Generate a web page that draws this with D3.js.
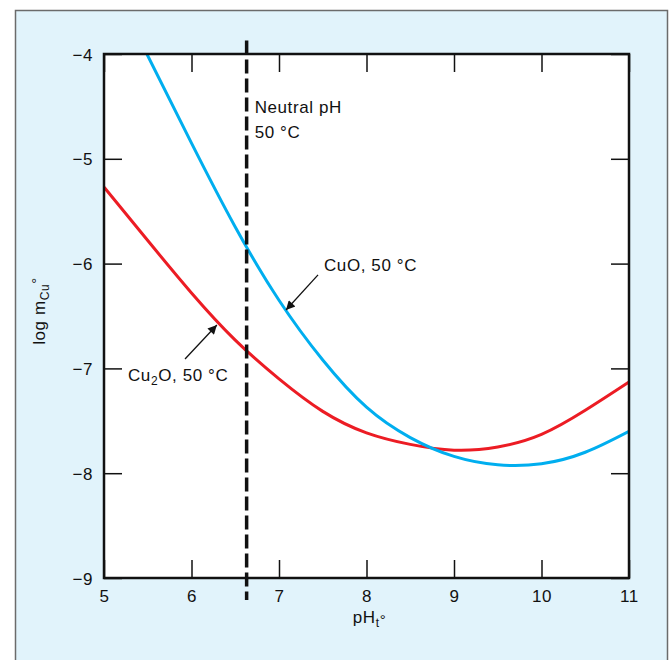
<!DOCTYPE html>
<html><head><meta charset="utf-8">
<script src="https://cdn.jsdelivr.net/npm/d3@7/dist/d3.min.js"></script>
<style>
html,body{margin:0;padding:0;background:#fff;}
svg text{font-family:"Liberation Sans",Arial,Helvetica,sans-serif;}
</style></head>
<body>
<svg id="chart" width="670" height="660"></svg>
<script>
// ---- data ----
const xTicks = [5, 6, 7, 8, 9, 10, 11];
const yTicks = [-4, -5, -6, -7, -8, -9];
const cuoPH   = [5.49, 6, 6.5, 7, 7.5, 8, 8.5, 9, 9.5, 10, 10.5, 11];
const cuoLog  = [-4.0, -4.85, -5.65, -6.35, -6.92, -7.37, -7.66, -7.84, -7.92, -7.91, -7.8, -7.6];
const cu2oPH  = [5, 5.5, 6, 6.5, 7, 7.5, 8, 8.5, 9, 9.5, 10, 10.5, 11];
const cu2oLog = [-5.27, -5.78, -6.28, -6.73, -7.1, -7.41, -7.615, -7.725, -7.78, -7.75, -7.63, -7.4, -7.13];
const neutralPH = 6.63;
const labelCuO = "CuO, 50 °C";
const labelNeutral = ["Neutral pH", "50 °C"];

// ---- layout ----
const svg = d3.select("#chart");
const L = 104, R = 629, T = 54, B = 578;
const x = d3.scaleLinear().domain([5, 11]).range([L, R]);
const y = d3.scaleLinear().domain([-9, -4]).range([B, T]);
const FONT = 17, LS = "0.6px";

// panel
svg.append("rect").attr("x", 15.5).attr("y", 10.5).attr("width", 652).attr("height", 660)
  .attr("fill", "#e1f3fb").attr("stroke", "#6b6b6b").attr("stroke-width", 1.5);
svg.append("rect").attr("x", L).attr("y", T).attr("width", R - L).attr("height", B - T).attr("fill", "#fff");

// curves
const line = d3.line().x(d => x(d[0])).y(d => y(d[1])).curve(d3.curveNatural);
svg.append("defs").append("clipPath").attr("id", "clip")
  .append("rect").attr("x", L).attr("y", T).attr("width", R - L).attr("height", B - T);
const g = svg.append("g").attr("clip-path", "url(#clip)");
g.append("path").datum(cu2oPH.map((p, i) => [p, cu2oLog[i]])).attr("d", line)
  .attr("fill", "none").attr("stroke", "#ec1c24").attr("stroke-width", 3);
g.append("path").datum(cuoPH.map((p, i) => [p, cuoLog[i]])).attr("d", line)
  .attr("fill", "none").attr("stroke", "#00aeef").attr("stroke-width", 3);

// axes (ticks inward on all four sides)
const TL = 18;
function styleAxis(sel) {
  sel.select(".domain").remove();
  sel.selectAll(".tick line").attr("stroke", "#111").attr("stroke-width", 1.5);
  sel.selectAll("text").attr("font-size", FONT).attr("fill", "#111").style("letter-spacing", LS)
    .attr("font-family", "Liberation Sans, Arial, sans-serif");
}
const fmt = d => d < 0 ? "\u2212" + Math.abs(d) : String(d);
svg.append("g").attr("transform", `translate(0,${B})`)
  .call(d3.axisBottom(x).tickValues(xTicks).tickSize(-TL).tickPadding(8).tickFormat(fmt))
  .call(styleAxis)
  .call(s => s.selectAll("text").attr("y", 24).attr("dy", 0));
svg.append("g").attr("transform", `translate(0,${T})`)
  .call(d3.axisTop(x).tickValues(xTicks).tickSize(-TL).tickFormat(""))
  .call(styleAxis);
svg.append("g").attr("transform", `translate(${L},0)`)
  .call(d3.axisLeft(y).tickValues(yTicks).tickSize(-TL).tickPadding(11).tickFormat(fmt))
  .call(styleAxis)
  .call(s => s.selectAll("text").attr("x", -11).attr("dy", "0.36em"));
svg.append("g").attr("transform", `translate(${R},0)`)
  .call(d3.axisRight(y).tickValues(yTicks).tickSize(-TL).tickFormat(""))
  .call(styleAxis);
// frame
svg.append("rect").attr("x", L).attr("y", T).attr("width", R - L).attr("height", B - T)
  .attr("fill", "none").attr("stroke", "#111").attr("stroke-width", 2.5);

// neutral pH dashed line
svg.append("line").attr("x1", x(neutralPH)).attr("x2", x(neutralPH))
  .attr("y1", y(-3.87)).attr("y2", y(-9.21))
  .attr("stroke", "#111").attr("stroke-width", 3.5).attr("stroke-dasharray", "14,5");

// text helpers
function txt(px, py, str) {
  return svg.append("text").attr("x", px).attr("y", py).attr("font-size", FONT)
    .attr("fill", "#111").style("letter-spacing", LS).text(str);
}
txt(x(neutralPH) + 8, y(-4.56), labelNeutral[0]);
txt(x(neutralPH) + 8, y(-4.8), labelNeutral[1]);
txt(x(7.514), y(-6.07), labelCuO);
const c2 = svg.append("text").attr("x", x(5.274)).attr("y", y(-7.12)).attr("font-size", FONT)
  .attr("fill", "#111").style("letter-spacing", LS);
c2.append("tspan").text("Cu");
c2.append("tspan").attr("font-size", 12).attr("dy", 4).text("2");
c2.append("tspan").attr("dy", -4).text("O, 50 °C");

// arrows
svg.append("defs").append("marker").attr("id", "ah").attr("viewBox", "0 0 10 10")
  .attr("refX", 10).attr("refY", 5).attr("markerWidth", 12).attr("markerHeight", 9)
  .attr("markerUnits", "userSpaceOnUse").attr("orient", "auto")
  .append("path").attr("d", "M0,0L10,5L0,10z").attr("fill", "#111");
function arrow(p0, v0, p1, v1) {
  svg.append("line").attr("x1", x(p0)).attr("y1", y(v0)).attr("x2", x(p1)).attr("y2", y(v1))
    .attr("stroke", "#111").attr("stroke-width", 1.3).attr("marker-end", "url(#ah)");
}
arrow(7.446, -6.108, 7.08, -6.443);
arrow(5.926, -6.91, 6.29, -6.586);

// axis titles
const xt = svg.append("text").attr("x", (L + R) / 2 + 3).attr("y", 623).attr("text-anchor", "middle")
  .attr("font-size", FONT).attr("fill", "#111").style("letter-spacing", LS);
xt.append("tspan").text("pH");
xt.append("tspan").attr("font-size", 12).attr("dy", 4).text("t");
xt.append("tspan").attr("font-size", 15).attr("dy", -2).text("°");
const yt = svg.append("text").attr("transform", `translate(45,311) rotate(-90)`)
  .attr("text-anchor", "middle").attr("font-size", FONT).attr("fill", "#111").style("letter-spacing", LS);
yt.append("tspan").text("log m");
yt.append("tspan").attr("font-size", 12).attr("dy", 4).text("Cu");
yt.append("tspan").attr("dy", -7).attr("font-size", 15).text("°");
</script>
</body></html>
